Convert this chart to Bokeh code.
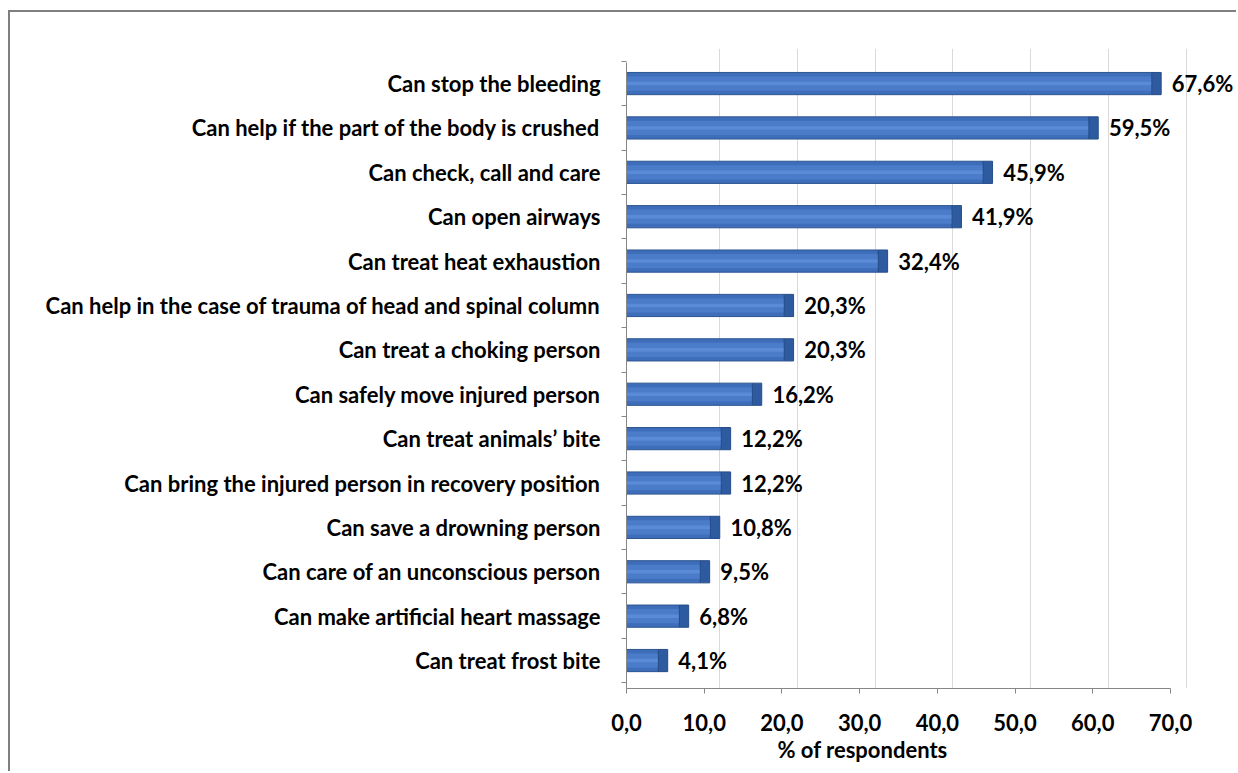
from bokeh.plotting import figure
from bokeh.models import Range1d, FixedTicker, LinearAxis, Grid, Title, ColumnDataSource
from bokeh.core.properties import value
from bokeh.embed import file_html
from bokeh.resources import INLINE

categories = [
    "Can stop the bleeding",
    "Can help if the part of the body is crushed",
    "Can check, call and care",
    "Can open airways",
    "Can treat heat exhaustion",
    "Can help in the case of trauma of head and spinal column",
    "Can treat a choking person",
    "Can safely move injured person",
    "Can treat animals\u2019 bite",
    "Can bring the injured person in recovery position",
    "Can save a drowning person",
    "Can care of an unconscious person",
    "Can make artificial heart massage",
    "Can treat frost bite",
]
values = [67.6, 59.5, 45.9, 41.9, 32.4, 20.3, 20.3, 16.2, 12.2, 12.2, 10.8, 9.5, 6.8, 4.1]
x_ticks = [0, 10, 20, 30, 40, 50, 60, 70]
x_title = "% of respondents"

FONT = "Lato"
FS = "22px"
DEPTH = 1.2  # 3D depth of the bar end, in axis units
n = len(categories)
pos = list(range(n))
src = ColumnDataSource(dict(
    y=pos,
    v=values,
    cap=[v + DEPTH for v in values],
    lab=[f"{v:.1f}".replace(".", ",") + "%" for v in values],
))

p = figure(
    width=1228, height=761,
    x_range=Range1d(0, 78.75),
    y_range=Range1d(start=13.63, end=-0.79),
    output_backend="svg", toolbar_location=None,
    x_axis_type=None, y_axis_type=None,
    min_border_left=616, min_border_right=0, min_border_top=36, min_border_bottom=85,
)
p.styles = {"border-left": "2px solid #7f7f7f", "border-top": "2px solid #7f7f7f",
            "margin-left": "8px", "margin-top": "10px"}
p.background_fill_color = "white"
p.border_fill_color = "white"
p.outline_line_color = None

# back-wall gridlines (offset like Excel's 3D depth)
p.extra_x_ranges = {"back": Range1d(-2, 76.75)}
g = Grid(dimension=0, ticker=FixedTicker(ticks=x_ticks[1:]), x_range_name="back",
         grid_line_color="#d9d9d9", grid_line_width=1)
p.add_layout(g)

# x axis
xa = LinearAxis(ticker=FixedTicker(ticks=x_ticks), bounds=(0, 70))
xa.major_label_overrides = {t: f"{t:.1f}".replace(".", ",") for t in x_ticks}
xa.major_label_text_font = FONT
xa.major_label_text_font_style = "bold"
xa.major_label_text_font_size = FS
xa.major_label_text_color = "black"
xa.major_label_standoff = 20
xa.major_tick_in = 0
xa.major_tick_out = 5
xa.minor_tick_out = 0
xa.minor_tick_in = 0
xa.axis_line_color = "#868686"
xa.major_tick_line_color = "#868686"
p.add_layout(xa, "below")

p.add_layout(Title(text=x_title, align="left", offset=151, standoff=0,
                   text_font=FONT, text_font_style="bold", text_font_size=FS,
                   text_color="black"), "below")

# y axis
ya = LinearAxis(
    ticker=FixedTicker(ticks=pos, minor_ticks=[i - 0.5 for i in range(n + 1)]),
    bounds=(-0.47, 13.63),
)
ya.major_label_overrides = {i: c for i, c in enumerate(categories)}
ya.major_label_text_font = FONT
ya.major_label_text_font_style = "bold"
ya.major_label_text_font_size = FS
ya.major_label_text_color = "black"
ya.major_label_standoff = 21
ya.major_tick_out = 0
ya.major_tick_in = 0
ya.minor_tick_out = 5
ya.minor_tick_in = 0
ya.axis_line_color = "#868686"
ya.minor_tick_line_color = "#868686"
p.add_layout(ya, "left")

# bars with 3D-like shading
p.hbar(y="y", left=0, right="v", height=0.5, source=src,
       fill_color="#3e6dba", line_color="#2c5590", line_width=1)
p.hbar(y="y", left=0, right="v", height=0.32, source=src,
       fill_color="#4a7cca", line_color=None)
p.hbar(y="y", left=0, right="v", height=0.08, source=src,
       fill_color="#5f8fd8", line_color=None, alpha=0.8)
p.hbar(y="y", left="v", right="cap", height=0.5, source=src,
       fill_color="#2e5aa0", line_color="#264d8a", line_width=1)

p.text(x="v", y="y", text="lab", source=src, x_offset=20,
       text_font=value(FONT), text_font_style="bold", text_font_size=FS,
       text_color="black", text_baseline="middle", text_align="left")

open("out.html", "w").write(file_html(p, INLINE))
